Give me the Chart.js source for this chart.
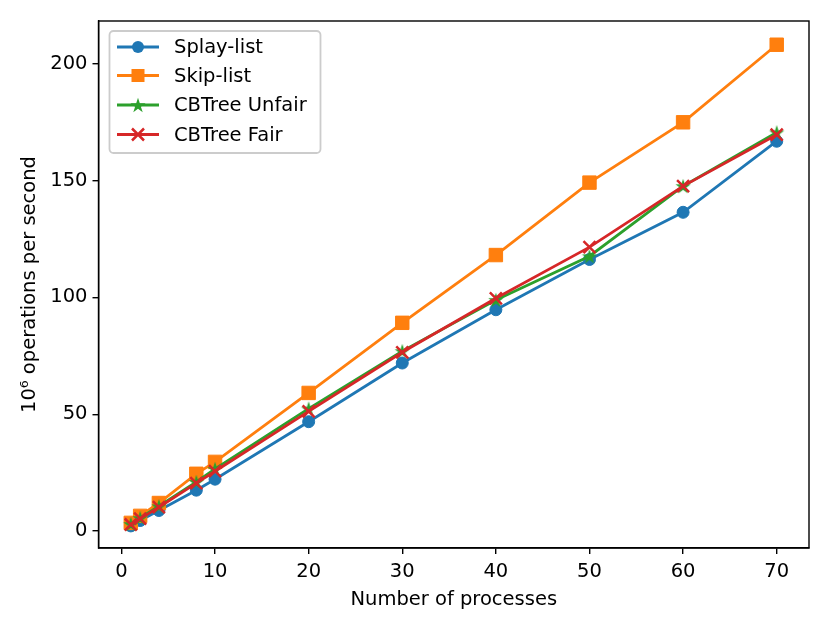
<!DOCTYPE html>
<html>
<head>
<meta charset="utf-8">
<script src="https://cdn.jsdelivr.net/npm/chart.js@4.4.0/dist/chart.umd.min.js"></script>
<style>
html, body { margin: 0; padding: 0; background: #fff; }
</style>
</head>
<body>
<canvas id="myChart" width="831" height="625"></canvas>
<script>
// data
const processes = [1, 2, 4, 8, 10, 20, 30, 40, 50, 60, 70];
const splayList = [2.2, 4.5, 8.8, 17.5, 22.2, 46.8, 71.9, 94.7, 116.2, 136.4, 166.8];
const skipList = [3.5, 6.5, 12.0, 24.5, 29.6, 59.1, 89.1, 118.1, 149.1, 174.9, 208.1];
const cbtreeUnfair = [3.0, 5.6, 10.6, 21.0, 26.6, 52.4, 77.0, 98.9, 117.6, 147.6, 170.6];
const cbtreeFair = [2.8, 5.3, 10.2, 20.5, 25.6, 51.2, 76.5, 99.6, 121.5, 147.6, 169.6];
const seriesNames = ['Splay-list', 'Skip-list', 'CBTree Unfair', 'CBTree Fair'];
const xTicks = [0, 10, 20, 30, 40, 50, 60, 70];
const yTicks = [0, 50, 100, 150, 200];

const blue = '#1f77b4', orange = '#ff7f0e', green = '#2ca02c', red = '#d62728';
const FONT = "'DejaVu Sans', sans-serif";
const FS = 19.5;

function pairs(ys) {
  return processes.map((x, i) => ({ x: x, y: ys[i] }));
}

// filled 5 point star like matplotlib '*'
function starImage(color, r) {
  const c = document.createElement('canvas');
  const s = Math.ceil(r * 2 + 2);
  c.width = s; c.height = s;
  const g = c.getContext('2d');
  g.fillStyle = color;
  g.beginPath();
  for (let i = 0; i < 10; i++) {
    const rr = i % 2 === 0 ? r : r * 0.382;
    const a = -Math.PI / 2 + i * Math.PI / 5;
    const px = s / 2 + rr * Math.cos(a), py = s / 2 + rr * Math.sin(a) + r * 0.1;
    if (i === 0) g.moveTo(px, py); else g.lineTo(px, py);
  }
  g.closePath();
  g.fill();
  return c;
}
const star = starImage(green, 8);

function lineSet(label, ys, color, style, radius, order) {
  return {
    label: label,
    data: pairs(ys),
    borderColor: color,
    backgroundColor: color,
    borderWidth: 2.8,
    pointStyle: style,
    pointRadius: radius,
    pointHoverRadius: radius,
    pointBorderColor: color,
    pointBackgroundColor: color,
    pointBorderWidth: style === 'crossRot' ? 2.5 : 1,
    tension: 0,
    order: order
  };
}

const frame = {
  id: 'frame',
  afterDatasetsDraw(chart) {
    const a = chart.chartArea, ctx = chart.ctx;
    ctx.save();
    ctx.strokeStyle = '#000';
    ctx.lineWidth = 1.4;
    ctx.strokeRect(a.left, a.top, a.right - a.left, a.bottom - a.top);
    ctx.restore();
  }
};

const boxLegend = {
  id: 'boxLegend',
  afterDraw(chart) {
    const a = chart.chartArea, ctx = chart.ctx;
    const x0 = a.left + 11, y0 = a.top + 10, w = 211, h = 122;
    ctx.save();
    ctx.fillStyle = 'rgba(255,255,255,0.8)';
    ctx.strokeStyle = '#cccccc';
    ctx.lineWidth = 1.8;
    ctx.beginPath();
    ctx.roundRect(x0, y0, w, h, 4);
    ctx.fill();
    ctx.stroke();
    const colors = [blue, orange, green, red];
    const rows = [47, 75.5, 105, 134.5];
    for (let i = 0; i < 4; i++) {
      const yy = rows[i];
      ctx.strokeStyle = colors[i];
      ctx.lineWidth = 2.8;
      ctx.beginPath();
      ctx.moveTo(117, yy); ctx.lineTo(159, yy);
      ctx.stroke();
      ctx.fillStyle = colors[i];
      const cx = 138;
      if (i === 0) {
        ctx.beginPath(); ctx.arc(cx, yy, 6, 0, Math.PI * 2); ctx.fill();
      } else if (i === 1) {
        ctx.fillRect(cx - 6.5, yy - 6.5, 13, 13);
      } else if (i === 2) {
        ctx.drawImage(star, cx - star.width / 2, yy - star.height / 2);
      } else {
        ctx.lineWidth = 2.5;
        ctx.beginPath();
        ctx.moveTo(cx - 6, yy - 6); ctx.lineTo(cx + 6, yy + 6);
        ctx.moveTo(cx + 6, yy - 6); ctx.lineTo(cx - 6, yy + 6);
        ctx.stroke();
      }
      ctx.fillStyle = '#000';
      ctx.font = FS + 'px ' + FONT;
      ctx.textBaseline = 'middle';
      ctx.fillText(seriesNames[i], 174, yy + 1);
    }
    ctx.restore();
  }
};

let canvas = document.getElementById('myChart');
let ctx = canvas.getContext('2d');

let chart = new Chart(ctx, {
  type: 'line',
  data: {
    datasets: [
      lineSet(seriesNames[0], splayList, blue, 'circle', 6, 4),
      lineSet(seriesNames[1], skipList, orange, 'rect', 9.5, 3),
      lineSet(seriesNames[2], cbtreeUnfair, green, star, 8, 2),
      lineSet(seriesNames[3], cbtreeFair, red, 'crossRot', 8.5, 1)
    ]
  },
  options: {
    responsive: false,
    animation: false,
    devicePixelRatio: 1,
    layout: { padding: { top: 21, right: 22, left: 0, bottom: 0 } },
    plugins: {
      legend: { display: false },
      tooltip: { enabled: false }
    },
    scales: {
      x: {
        type: 'linear',
        min: -2.45,
        max: 73.45,
        afterBuildTicks: (s) => { s.ticks = xTicks.map(v => ({ value: v })); },
        afterFit: (s) => { s.height = 77; },
        grid: { display: true, drawOnChartArea: false, drawTicks: true, tickLength: 6, color: '#000', lineWidth: 1.4 },
        border: { display: true, color: '#000', width: 1.4 },
        ticks: { color: '#000', font: { family: FONT, size: FS }, padding: 6, maxRotation: 0 },
        title: { display: true, text: 'Number of processes', color: '#000', font: { family: FONT, size: FS }, padding: { top: 0, bottom: 13 } }
      },
      y: {
        type: 'linear',
        min: -7.25,
        max: 218.25,
        afterBuildTicks: (s) => { s.ticks = yTicks.map(v => ({ value: v })); },
        afterFit: (s) => { s.width = 98.5; },
        grid: { display: true, drawOnChartArea: false, drawTicks: true, tickLength: 6, color: '#000', lineWidth: 1.4 },
        border: { display: true, color: '#000', width: 1.4 },
        ticks: { color: '#000', font: { family: FONT, size: FS }, padding: 5 },
        title: { display: true, text: '10\u2076 operations per second', color: '#000', font: { family: FONT, size: FS }, padding: { top: 18, bottom: 0 } }
      }
    }
  },
  plugins: [frame, boxLegend]
});
</script>
</body>
</html>
